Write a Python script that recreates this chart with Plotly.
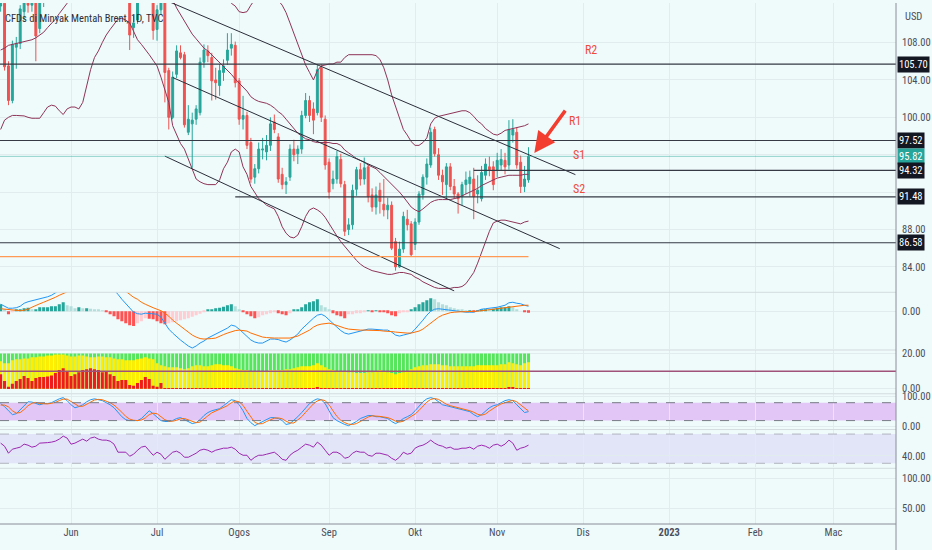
import pandas as pd
import plotly.graph_objects as go
from plotly.subplots import make_subplots

# daily bars, 6 May .. 11 Nov 2022
bars = pd.bdate_range("2022-05-06", periods=136)

opens = [111.9, 112.2, 105.5, 101.8, 107.5, 107.9, 111.3, 114.2, 112.0, 112.5, 109.5, 112.9, 113.4, 113.6, 114.0, 117.4, 119.4, 121.7,
         122.6, 116.3, 117.6, 119.7, 119.5, 120.6, 123.6, 123.1, 122.0, 122.3, 121.2, 118.5, 119.8, 113.1, 114.1, 114.6, 109.6, 110.4, 113.2, 115.0, 117.9, 116.3,
         109.4, 111.5, 113.0, 105.0, 100.0, 104.6, 106.9, 106.7, 98.4, 99.3, 99.8, 100.5, 105.9, 107.1, 106.4, 104.0, 103.4, 104.8, 106.1, 107.4, 107.7, 103.9,
         99.8, 100.2, 97.3, 93.6, 94.5, 96.5, 96.3, 97.0, 99.5, 97.9, 93.9, 92.8, 93.6, 96.6, 96.1, 96.6, 100.2, 101.8, 100.9, 100.5, 105.3, 99.8,
         95.2, 92.9, 93.4, 95.5, 92.8, 88.0, 88.5, 92.3, 94.4, 93.4, 94.7, 91.7, 90.4, 92.2, 90.7, 90.1, 90.6, 86.7, 84.0, 85.9, 89.1, 88.6,
         86.4, 88.8, 91.7, 93.6, 94.9, 98.7, 96.0, 93.8, 92.8, 94.7, 92.6, 91.8, 91.5, 92.8, 92.9, 93.4, 91.8, 91.3, 93.8, 94.7, 94.7, 94.4,
         94.9, 95.4, 94.9, 98.1, 98.4, 95.2, 92.6, 93.3]
highs = [113.2, 112.8, 106.0, 108.2, 108.6, 112.0, 114.8, 114.9, 113.0, 113.0, 113.5, 114.2, 114.5, 114.9, 117.6, 119.6, 121.9, 124.0,
         123.2, 118.2, 120.0, 121.0, 121.2, 124.0, 124.0, 124.0, 123.7, 125.0, 122.6, 120.5, 120.0, 114.8, 115.3, 115.0, 110.9, 113.8, 115.3, 118.6, 118.3, 116.8,
         112.0, 113.5, 113.6, 105.3, 104.9, 107.7, 107.7, 107.0, 101.3, 100.5, 101.3, 106.4, 107.8, 107.7, 106.9, 105.3, 105.7, 106.2, 109.0, 109.0, 108.1, 104.2,
         102.3, 100.6, 97.8, 95.0, 97.3, 97.8, 98.1, 100.0, 100.3, 98.3, 94.6, 93.6, 97.1, 97.6, 97.0, 100.7, 102.6, 102.3, 101.6, 105.7, 105.7, 100.2,
         95.6, 94.3, 96.4, 96.1, 93.2, 89.2, 92.8, 94.7, 95.1, 95.7, 95.0, 92.4, 92.6, 93.0, 93.4, 91.4, 91.0, 87.1, 86.7, 89.9, 90.1, 88.9,
         89.2, 92.1, 93.9, 95.6, 98.9, 99.0, 96.7, 94.4, 95.1, 95.1, 93.4, 92.0, 93.1, 94.2, 94.3, 94.6, 93.8, 94.8, 95.6, 95.8, 95.3, 96.2,
         96.6, 96.2, 99.7, 99.8, 98.9, 95.9, 94.8, 96.8]
lows = [111.3, 105.0, 101.3, 101.5, 105.2, 107.3, 110.4, 111.2, 111.3, 106.0, 109.0, 111.8, 112.6, 112.8, 113.7, 116.9, 118.8, 118.9,
        114.6, 113.8, 116.9, 118.3, 119.0, 120.2, 121.8, 120.5, 119.6, 120.2, 117.8, 117.4, 112.7, 112.4, 113.0, 107.2, 108.5, 110.0, 112.6, 114.5, 115.5, 108.3,
        108.2, 111.0, 101.6, 98.7, 99.8, 104.2, 106.2, 98.9, 98.1, 94.6, 99.2, 100.2, 105.3, 105.9, 101.8, 101.9, 102.3, 103.9, 105.6, 106.6, 103.2, 99.2,
        98.7, 96.6, 93.0, 92.9, 94.0, 95.5, 95.4, 96.4, 98.3, 93.0, 92.3, 91.8, 93.2, 95.3, 95.0, 96.1, 99.9, 99.5, 98.2, 100.2, 99.5, 94.4,
        91.3, 92.3, 92.9, 92.5, 87.3, 87.4, 88.0, 91.6, 92.7, 92.8, 90.9, 89.9, 89.6, 89.7, 89.4, 89.1, 85.8, 83.6, 83.9, 85.5, 87.9, 85.1,
        85.8, 88.5, 91.2, 92.8, 94.6, 95.8, 93.3, 91.7, 91.3, 92.2, 91.3, 89.7, 90.6, 91.8, 91.5, 89.1, 90.8, 91.0, 93.3, 93.7, 92.2, 93.6,
        94.3, 93.9, 94.4, 97.3, 94.5, 91.9, 92.0, 93.0]
closes = [112.4, 105.4, 101.8, 107.8, 107.9, 111.6, 114.2, 112.0, 112.6, 108.7, 112.9, 113.4, 113.6, 114.0, 117.4, 119.4, 121.7, 122.8,
          116.3, 117.6, 119.7, 119.5, 120.6, 123.6, 123.1, 122.0, 122.3, 121.2, 118.5, 119.8, 113.1, 114.1, 114.6, 108.8, 110.1, 113.2, 115.0, 117.9, 116.3, 109.3,
          111.5, 113.0, 104.8, 100.0, 104.3, 107.1, 106.4, 99.2, 99.8, 99.7, 100.9, 105.9, 107.2, 106.6, 103.9, 103.7, 105.0, 105.5, 107.2, 107.8, 103.7, 99.8,
          100.2, 97.0, 93.4, 94.5, 96.6, 96.6, 97.0, 99.3, 98.7, 93.4, 92.8, 93.1, 96.6, 96.0, 96.6, 100.2, 101.8, 100.2, 99.7, 105.1, 100.0, 94.9,
          92.0, 93.4, 95.8, 92.9, 87.8, 88.5, 92.2, 94.4, 93.4, 94.6, 91.5, 90.4, 91.7, 91.0, 90.1, 90.6, 86.0, 84.0, 85.9, 89.4, 88.5, 85.3,
          88.8, 91.8, 93.6, 95.0, 98.4, 96.1, 93.8, 93.1, 94.7, 92.6, 91.8, 91.3, 92.8, 93.3, 93.6, 91.5, 92.2, 94.1, 95.0, 94.4, 92.8, 95.4,
          95.5, 94.7, 98.7, 98.7, 94.9, 92.6, 93.4, 95.82]

# Bollinger bands
bb_upper = [116.5, 116.3, 116.0, 115.8, 115.6, 115.5, 115.4, 115.4, 115.5, 115.6, 115.8, 116.2, 116.8, 117.6, 118.6, 119.8, 121.0, 122.2,
            123.0, 123.6, 124.2, 124.7, 125.0, 125.2, 125.4, 125.5, 125.5, 125.4, 125.2, 125.0, 124.8, 124.8, 124.9, 125.0, 125.0, 125.0, 125.0, 124.9, 124.8, 124.6,
            124.4, 124.2, 124.0, 123.8, 123.5, 122.8, 122.0, 121.3, 120.5, 119.8, 118.5, 117.5, 116.6, 116.0, 115.3, 114.8, 114.2, 113.5, 112.8, 112.2, 111.9, 111.3,
            111.2, 111.3, 112.0, 112.6, 112.8, 113.0, 113.0, 112.9, 112.7, 112.5, 112.0, 111.2, 110.1, 109.0, 108.0, 106.9, 105.6, 104.8, 104.0, 105.0, 105.5, 105.6,
            105.7, 105.7, 105.9, 105.9, 106.4, 106.7, 106.7, 106.7, 106.7, 106.7, 106.7, 106.7, 106.6, 106.2, 105.3, 104.0, 102.4, 101.1, 99.8, 98.7, 98.1, 97.4,
            97.0, 97.0, 97.3, 97.8, 99.3, 99.9, 100.1, 100.2, 100.3, 100.4, 100.5, 100.6, 100.7, 100.7, 100.5, 100.1, 99.6, 99.3, 98.8, 98.5, 98.2, 98.1,
            98.3, 98.6, 98.7, 98.8, 98.9, 99.0, 99.1, 99.3]
bb_basis = [107.2, 107.4, 107.7, 107.8, 107.9, 108.0, 108.1, 108.2, 108.3, 108.5, 108.8, 109.1, 109.6, 110.0, 110.5, 111.1, 111.6, 112.2,
            112.8, 113.4, 114.0, 114.6, 115.2, 115.8, 116.3, 116.8, 117.2, 117.6, 117.9, 118.1, 118.2, 118.2, 118.1, 117.8, 117.5, 117.2, 116.8, 116.4, 116.0, 115.5,
            115.0, 114.4, 113.8, 113.2, 112.6, 111.7, 111.0, 110.3, 109.7, 108.9, 108.4, 107.9, 107.4, 107.1, 106.7, 106.3, 105.9, 105.4, 105.0, 104.6, 104.1, 103.7,
            103.3, 102.8, 102.2, 101.9, 101.7, 101.6, 101.5, 101.3, 101.0, 100.6, 100.3, 99.8, 99.3, 98.7, 98.3, 98.0, 97.7, 97.6, 97.4, 97.3, 97.3, 97.3,
            97.3, 97.2, 97.2, 97.0, 96.5, 96.2, 95.9, 95.6, 95.4, 95.2, 94.9, 94.7, 94.5, 94.1, 93.7, 93.3, 92.9, 92.4, 92.0, 91.5, 91.0, 90.4,
            90.1, 89.9, 90.2, 90.6, 90.9, 91.1, 91.2, 91.2, 91.2, 91.2, 91.3, 91.4, 91.6, 91.8, 92.0, 92.2, 92.4, 92.7, 92.9, 93.1, 93.3, 93.5,
            93.6, 93.7, 93.8, 93.8, 93.8, 93.8, 93.9, 93.9]
bb_lower = [98.7, 99.7, 100.0, 100.2, 100.2, 100.2, 100.15, 100.0, 99.9, 99.9, 99.9, 100.5, 101.1, 101.3, 101.2, 100.7, 100.3, 100.9,
            101.1, 101.1, 100.9, 101.6, 103.4, 105.1, 106.4, 107.1, 108.0, 108.8, 109.4, 109.9, 110.5, 110.6, 110.4, 110.1, 109.1, 108.3, 107.8, 107.3, 106.7, 106.1,
            105.5, 104.3, 103.0, 101.6, 99.1, 98.1, 97.2, 96.6, 95.5, 94.4, 93.4, 93.1, 92.9, 92.8, 92.8, 92.8, 93.3, 94.5, 95.2, 96.3, 96.6, 96.3,
            94.7, 93.9, 92.6, 91.9, 91.3, 91.0, 90.6, 90.4, 90.2, 89.4, 88.3, 87.6, 87.2, 87.1, 87.4, 88.3, 89.4, 90.1, 90.3, 90.1, 89.8, 89.3,
            88.6, 87.9, 87.3, 86.7, 86.2, 85.6, 85.1, 84.7, 84.3, 84.0, 83.8, 83.6, 83.5, 83.4, 83.3, 83.2, 83.2, 83.3, 83.4, 83.4, 83.3, 83.2,
            82.9, 82.7, 82.4, 82.2, 82.0, 81.8, 81.7, 81.7, 81.7, 81.7, 81.8, 81.8, 81.9, 82.2, 82.8, 83.4, 84.4, 85.6, 86.7, 87.8, 88.7, 88.9,
            89.0, 89.0, 88.9, 88.8, 88.7, 88.6, 88.8, 88.9]

macd_line = [0.7, 0.5, 0.3, 0.3, 0.35, 0.5, 0.8, 0.95, 1.05, 1.1, 1.2, 1.35, 1.45, 1.6, 1.8, 2.1, 2.5, 2.7,
             2.9, 3.0, 3.2, 3.4, 3.6, 3.7, 3.7, 3.6, 3.3, 3.0, 2.6, 2.2, 1.7, 1.2, 0.8, 0.3, -0.1, -0.25, -0.3, -0.2, -0.25, -0.3,
             -0.3, -0.6, -1.2, -1.8, -2.2, -2.6, -2.9, -3.2, -3.5, -3.7, -3.5, -3.2, -3.0, -2.7, -2.5, -2.3, -2.1, -1.9, -1.7, -1.4, -1.5, -1.8,
             -2.2, -2.5, -2.9, -3.1, -3.2, -3.2, -3.0, -2.8, -2.8, -2.85, -3.0, -3.1, -2.9, -2.6, -2.3, -1.8, -1.4, -1.0, -0.7, -0.4, -0.3, -0.5,
             -0.9, -1.2, -1.6, -1.95, -2.2, -2.3, -2.2, -2.1, -2.0, -1.9, -1.8, -1.8, -1.85, -1.9, -1.9, -1.9, -2.1, -2.4, -2.5, -2.4, -2.3, -2.2,
             -1.8, -1.4, -0.9, -0.4, 0.0, 0.2, 0.25, 0.2, 0.15, 0.1, 0.05, 0.0, -0.1, -0.1, -0.1, -0.1, 0.05, 0.2, 0.25, 0.3, 0.3, 0.4,
             0.5, 0.6, 0.85, 0.9, 0.8, 0.75, 0.6, 0.5]
macd_signal = [0.25, 0.2, 0.15, 0.1, 0.05, 0.05, 0.1, 0.2, 0.4, 0.6, 0.75, 0.9, 1.05, 1.2, 1.4, 1.6, 1.8, 2.0,
               2.2, 2.4, 2.6, 2.8, 3.0, 3.2, 3.3, 3.35, 3.35, 3.3, 3.1, 2.9, 2.6, 2.3, 2.0, 1.7, 1.4, 1.2, 0.9, 0.7, 0.5, 0.35,
               0.2, 0.05, -0.2, -0.5, -0.9, -1.2, -1.5, -1.8, -2.1, -2.4, -2.6, -2.75, -2.8, -2.8, -2.75, -2.7, -2.5, -2.35, -2.2, -2.05, -1.95, -1.9,
               -1.95, -2.0, -2.2, -2.35, -2.5, -2.6, -2.65, -2.7, -2.7, -2.7, -2.7, -2.7, -2.7, -2.6, -2.5, -2.3, -2.1, -1.9, -1.6, -1.4, -1.3, -1.25,
               -1.2, -1.3, -1.45, -1.6, -1.7, -1.8, -1.85, -1.9, -1.9, -1.9, -1.9, -1.9, -1.9, -1.95, -2.0, -2.0, -2.05, -2.1, -2.15, -2.2, -2.2, -2.2,
               -2.1, -2.0, -1.8, -1.5, -1.2, -0.9, -0.6, -0.4, -0.25, -0.15, -0.1, -0.05, -0.05, -0.05, -0.05, 0.0, 0.0, 0.05, 0.1, 0.15, 0.2, 0.25,
               0.3, 0.35, 0.4, 0.5, 0.55, 0.6, 0.6, 0.6]
macd_hist = [0.7, 0.2, -0.3, -0.1, 0.1, 0.2, 0.3, 0.35, 0.2, 0.2, 0.4, 0.4, 0.4, 0.5, 0.5, 0.7, 0.9, 0.6,
             0.5, 0.3, 0.4, 0.3, 0.3, 0.25, 0.2, 0.15, 0.05, -0.05, -0.3, -0.5, -0.8, -1.0, -1.2, -1.4, -1.5, -1.2, -1.0, -0.7, -0.75, -0.8,
             -1.0, -1.2, -1.3, -1.2, -1.1, -1.0, -0.9, -0.8, -0.7, -0.55, -0.4, -0.25, -0.1, 0.1, 0.2, 0.3, 0.35, 0.45, 0.6, 0.7, 0.5, 0.2,
             -0.1, -0.3, -0.5, -0.7, -0.6, -0.4, -0.3, -0.2, -0.1, -0.2, -0.3, -0.4, -0.2, 0.1, 0.2, 0.4, 0.7, 0.9, 1.0, 1.2, 0.6, 0.4,
             0.1, -0.2, -0.4, -0.5, -0.7, -0.3, -0.3, -0.2, -0.2, -0.1, 0.05, -0.05, 0.05, -0.05, -0.1, -0.2, -0.4, -0.5, -0.2, -0.1, -0.05, 0.2,
             0.4, 0.7, 0.9, 1.1, 1.3, 1.2, 0.9, 0.7, 0.6, 0.4, 0.3, 0.2, 0.1, 0.05, 0.05, -0.05, 0.05, 0.15, 0.2, 0.15, 0.25, 0.35,
             0.4, 0.4, 0.5, 0.4, 0.15, 0.0, -0.1, -0.15]

# trend strength columns (0..20 scale)
trend_full = 20
trend_yellow = [15.6, 14.4, 14.4, 16.1, 16.7, 16.7, 17.2, 17.2, 17.8, 17.8, 18.3, 18.3, 18.9, 18.9, 19.4, 19.4, 19.4, 18.9,
                18.3, 18.3, 18.9, 18.9, 18.3, 17.8, 17.8, 18.3, 18.3, 17.8, 17.8, 17.2, 16.7, 16.7, 16.1, 16.1, 16.1, 16.7, 17.2, 17.8, 17.2, 16.7,
                14.4, 13.3, 12.8, 12.2, 12.2, 12.2, 11.7, 11.1, 11.7, 12.8, 13.3, 13.3, 12.8, 12.8, 13.3, 13.9, 13.9, 13.3, 13.3, 12.8, 11.7, 11.1,
                10.6, 10.6, 10.0, 10.0, 10.0, 10.0, 10.0, 10.6, 10.6, 10.6, 10.6, 11.1, 11.1, 11.7, 12.2, 12.8, 12.8, 12.8, 13.3, 14.4, 13.3, 12.2,
                11.1, 10.6, 10.0, 10.0, 10.0, 9.4, 9.4, 8.9, 8.9, 8.9, 9.4, 9.4, 10.0, 10.6, 10.0, 9.4, 8.9, 8.3, 8.9, 9.4, 10.0, 11.1,
                12.2, 12.8, 13.3, 13.3, 13.9, 13.9, 13.9, 13.3, 13.3, 12.8, 12.8, 12.8, 12.8, 12.8, 12.8, 12.8, 13.3, 13.3, 13.3, 13.3, 13.3, 13.3,
                13.9, 13.9, 15.0, 14.4, 13.9, 13.3, 14.4, 15.0]
trend_red = [8.3, 4.4, 1.1, 2.8, 4.4, 5.6, 7.2, 6.1, 4.4, 6.1, 6.7, 6.7, 6.9, 7.5, 8.9, 10.6, 11.7, 10.0,
             7.2, 8.3, 9.4, 10.6, 11.1, 11.7, 11.1, 10.6, 9.4, 10.0, 8.3, 7.2, 4.4, 5.0, 5.0, 2.2, 1.7, 3.3, 5.0, 6.7, 5.6, 1.7,
             1.1, 3.3, 0.4, 0.4, 0.4, 0.4, 0.4, 0.4, 0.4, 0.4, 0.4, 0.4, 0.4, 0.4, 0.4, 0.4, 0.4, 0.4, 0.4, 0.4, 0.4, 0.4,
             0.4, 0.4, 0.4, 0.4, 0.4, 0.4, 0.4, 0.4, 0.4, 0.4, 0.4, 0.4, 0.4, 0.4, 0.4, 0.4, 0.4, 0.4, 0.4, 0.8, 0.4, 0.4,
             0.4, 0.4, 0.4, 0.4, 0.4, 0.4, 0.4, 0.4, 0.4, 0.4, 0.4, 0.4, 0.4, 0.4, 0.4, 0.4, 0.4, 0.4, 0.4, 0.4, 0.4, 0.4,
             0.4, 0.4, 0.4, 0.4, 0.4, 0.4, 0.4, 0.4, 0.4, 0.4, 0.4, 0.4, 0.4, 0.4, 0.4, 0.4, 0.4, 0.4, 0.4, 0.4, 0.4, 0.4,
             0.4, 0.4, 0.9, 0.9, 0.4, 0.4, 0.4, 0.4]

stoch_k = [77, 67, 53, 40, 43, 57, 70, 83, 82, 77, 73, 77, 77, 80, 87, 93, 97, 87,
           73, 63, 67, 73, 83, 90, 93, 90, 87, 80, 73, 63, 47, 33, 23, 20, 20, 20, 27, 40, 53, 43,
           33, 20, 17, 17, 20, 27, 30, 23, 17, 10, 13, 23, 37, 47, 53, 57, 60, 70, 80, 90, 87, 73,
           53, 27, 13, 3, 10, 17, 23, 30, 30, 27, 20, 7, 10, 20, 33, 47, 63, 77, 87, 93, 90, 77,
           53, 30, 20, 13, 7, 3, 10, 17, 27, 33, 37, 37, 33, 33, 30, 27, 17, 10, 17, 27, 33, 40,
           53, 70, 83, 93, 97, 93, 83, 73, 70, 67, 63, 60, 57, 53, 50, 40, 33, 40, 53, 63, 70, 73,
           80, 87, 90, 87, 73, 60, 47, 50]
stoch_d = [72, 72, 66, 53, 45, 47, 57, 70, 78, 81, 77, 76, 76, 78, 81, 87, 92, 92,
           84, 74, 68, 68, 74, 82, 89, 91, 90, 86, 80, 72, 61, 48, 34, 25, 21, 20, 22, 29, 40, 45,
           43, 32, 23, 18, 18, 21, 26, 27, 23, 17, 13, 15, 24, 36, 46, 52, 57, 62, 70, 80, 86, 83,
           71, 51, 31, 14, 9, 10, 17, 23, 28, 29, 26, 18, 12, 12, 21, 33, 48, 62, 76, 86, 90, 87,
           73, 53, 34, 21, 13, 8, 7, 10, 18, 26, 32, 36, 36, 34, 32, 30, 25, 18, 15, 18, 26, 33,
           42, 54, 69, 82, 91, 94, 91, 83, 75, 70, 67, 63, 60, 57, 53, 48, 41, 38, 42, 52, 62, 69,
           76, 80, 86, 88, 83, 73, 60, 52]
rsi = [57.6, 53.4, 43.8, 49.3, 50.7, 52.1, 56.2, 54.8, 52.1, 53.4, 57.6, 57.6, 58.3, 59.0, 60.3, 63.1, 67.2, 64.5,
       56.2, 57.6, 60.3, 63.1, 60.3, 64.5, 65.9, 63.1, 61.7, 61.7, 60.3, 56.2, 45.2, 45.2, 45.2, 39.7, 42.4, 47.9, 52.1, 53.4, 47.9, 41.0,
       45.2, 42.4, 35.5, 39.7, 45.2, 46.6, 43.8, 38.3, 38.3, 41.0, 43.8, 47.9, 49.3, 47.9, 45.2, 47.9, 49.3, 50.7, 50.7, 52.1, 49.3, 43.8,
       41.0, 41.0, 34.1, 38.3, 41.0, 41.0, 42.4, 43.8, 45.2, 41.0, 35.5, 34.1, 41.0, 45.2, 47.9, 52.1, 56.2, 54.8, 52.1, 59.0, 54.8, 47.9,
       41.0, 45.2, 45.2, 42.4, 36.9, 38.3, 43.8, 46.6, 45.2, 45.2, 41.0, 39.7, 43.8, 43.8, 42.4, 41.0, 36.9, 34.1, 38.3, 45.2, 42.4, 43.8,
       50.7, 53.4, 54.8, 57.6, 61.7, 57.6, 54.8, 53.4, 50.7, 52.1, 49.3, 49.3, 50.7, 50.7, 52.1, 49.3, 53.4, 54.8, 53.4, 50.7, 54.8, 56.2,
       53.4, 56.2, 61.7, 57.6, 47.9, 50.7, 52.1, 54.8]

# drawings
level_price = [105.70, 97.52, 94.32, 91.48, 86.58]
level_start = [None, None, "2022-10-24", "2022-07-29", None]
orange_level = 85.1
last_price = 95.82
channel_x = [["2022-07-04", "2022-11-29"], ["2022-07-07", "2022-11-23"], ["2022-07-05", "2022-10-17"]]
channel_y = [[112.74, 93.87], [104.26, 85.95], [95.85, 81.43]]
pivot_text = ["R2", "R1", "S1", "S2"]
pivot_x = ["2022-12-05", "2022-11-29", "2022-11-30", "2022-11-30"]
pivot_y = [107.2, 99.6, 96.0, 92.3]
tag_price = [105.70, 97.52, 95.82, 94.32, 91.48, 86.58]

month_ticks = ["2022-06-01", "2022-07-01", "2022-08-01", "2022-09-01", "2022-10-03",
               "2022-11-01", "2022-12-01", "2023-01-02", "2023-02-01", "2023-03-01"]
month_text = ["Jun", "Jul", "Ogos", "Sep", "Okt", "Nov", "Dis", "<b>2023</b>", "Feb", "Mac"]
x_range = ["2022-05-05 20:00", "2023-03-23"]

BG = "#effafb"
GRID = "#e0ecee"
UP, DOWN = "#26a69a", "#ef5350"
BB_COLOR = "#8e3457"
FONT = "Liberation Sans Narrow, Roboto Condensed, Roboto, sans-serif"

fig = make_subplots(rows=6, cols=1, shared_xaxes=True, vertical_spacing=0)

fig.add_trace(go.Candlestick(
    x=bars, open=opens, high=highs, low=lows, close=closes,
    increasing=dict(line=dict(color=UP, width=1), fillcolor=UP),
    decreasing=dict(line=dict(color=DOWN, width=1), fillcolor=DOWN),
    whiskerwidth=0), row=1, col=1)

for band in (bb_upper, bb_basis, bb_lower):
    fig.add_trace(go.Scatter(x=bars, y=band, mode="lines",
                             line=dict(color=BB_COLOR, width=1)), row=1, col=1)

for cx, cy in zip(channel_x, channel_y):
    fig.add_trace(go.Scatter(x=cx, y=cy, mode="lines",
                             line=dict(color="#2a2e39", width=1)), row=1, col=1)

# MACD
hist_colors = []
prev = 0
for h in macd_hist:
    if h >= 0:
        hist_colors.append("#26a69a" if h >= prev else "#b2dfdb")
    else:
        hist_colors.append("#ff5252" if h < prev else "#ffcdd2")
    prev = h
fig.add_trace(go.Bar(x=bars, y=macd_hist, marker=dict(color=hist_colors, line_width=0)), row=2, col=1)
fig.add_trace(go.Scatter(x=bars, y=macd_line, mode="lines", line=dict(color="#2196f3", width=1)), row=2, col=1)
fig.add_trace(go.Scatter(x=bars, y=macd_signal, mode="lines", line=dict(color="#ff6d00", width=1)), row=2, col=1)

# trend columns
fig.add_trace(go.Bar(x=bars, y=[trend_full] * len(bars), marker=dict(color="#55e65b", line_width=0)), row=3, col=1)
fig.add_trace(go.Bar(x=bars, y=trend_yellow, marker=dict(color="#ffee00", line_width=0)), row=3, col=1)
fig.add_trace(go.Bar(x=bars, y=trend_red, marker=dict(color="#ee1c1c", line_width=0)), row=3, col=1)

# stochastic
fig.add_trace(go.Scatter(x=bars, y=stoch_k, mode="lines", line=dict(color="#2196f3", width=1)), row=4, col=1)
fig.add_trace(go.Scatter(x=bars, y=stoch_d, mode="lines", line=dict(color="#ff6d00", width=1)), row=4, col=1)

# RSI
fig.add_trace(go.Scatter(x=bars, y=rsi, mode="lines", line=dict(color="#9c27b0", width=1)), row=5, col=1)

# empty bottom pane, still needs a trace so its axes get drawn
fig.add_trace(go.Scatter(x=[], y=[], mode="lines"), row=6, col=1)

fig.update_layout(
    width=932, height=550, margin=dict(l=0, r=36, t=0, b=26),
    paper_bgcolor=BG, plot_bgcolor=BG, showlegend=False,
    barmode="overlay", bargap=0.22,
    font=dict(family=FONT, size=10.5, color="#4a4e5a"))

fig.update_xaxes(type="date", range=x_range, rangebreaks=[dict(bounds=["sat", "mon"])],
                 tickvals=month_ticks, ticktext=month_text, showgrid=True, gridcolor=GRID,
                 zeroline=False, showline=False, ticks="", rangeslider_visible=False)
for r in range(1, 6):
    fig.update_xaxes(showticklabels=False, row=r, col=1)

domains = [[0.4456, 1.0], [0.3359, 0.4447], [0.2519, 0.3340], [0.1813, 0.2500], [0.1088, 0.1813], [0.0, 0.1069]]
yranges = [[81.33, 112.23], [-3.8, 1.9], [-2.25, 21.97], [-10, 110], [24.5, 76.2], [23.3, 116.7]]
yticks = [[84, 88, 100, 104, 108], [0], [0, 20], [0, 100], [40], [50, 100]]
for n in range(6):
    fig.update_yaxes(side="right", domain=domains[n], range=yranges[n], tickvals=yticks[n],
                     tickformat=".2f", showgrid=True, gridcolor=GRID, zeroline=False,
                     ticks="", showline=False, ticklabelstandoff=5, row=n + 1, col=1)
# price grid rows whose labels sit under the price tags
fig.update_yaxes(minor=dict(tickvals=[92, 96], showgrid=True, gridcolor=GRID), row=1, col=1)

# support / resistance lines
for price, start in zip(level_price, level_start):
    if start is None:
        fig.add_shape(type="line", xref="paper", x0=0, x1=1, yref="y", y0=price, y1=price,
                      line=dict(color="#363a45", width=1.2))
    else:
        fig.add_shape(type="line", xref="x", x0=start, x1=x_range[1], yref="y", y0=price, y1=price,
                      line=dict(color="#363a45", width=1.2))
fig.add_shape(type="line", xref="x", x0=x_range[0], x1=bars[-1], yref="y", y0=orange_level, y1=orange_level,
              line=dict(color="#ff9a55", width=1.3))
fig.add_shape(type="line", xref="paper", x0=0, x1=1, yref="y", y0=last_price, y1=last_price,
              line=dict(color="rgba(38,166,154,0.45)", width=1))

# oscillator bands
fig.add_shape(type="rect", xref="paper", x0=0, x1=1, yref="y4", y0=20, y1=80,
              fillcolor="rgba(192,80,234,0.3)", line_width=0, layer="below")
fig.add_shape(type="rect", xref="paper", x0=0, x1=1, yref="y5", y0=30, y1=70,
              fillcolor="rgba(150,100,230,0.14)", line_width=0, layer="below")
for yref, val, col in [("y4", 80, "#787b86"), ("y4", 20, "#787b86"), ("y5", 70, "#b2b5be"), ("y5", 30, "#b2b5be")]:
    fig.add_shape(type="line", xref="paper", x0=0, x1=1, yref=yref, y0=val, y1=val,
                  line=dict(color=col, width=1, dash="dash"))
fig.add_shape(type="line", xref="paper", x0=0, x1=1, yref="y3", y0=10, y1=10,
              line=dict(color="#a0527a", width=1.5))

# pane separators and axis lines
for top in domains[1:]:
    fig.add_shape(type="line", xref="paper", x0=0, x1=1, yref="paper", y0=top[1], y1=top[1],
                  line=dict(color="#d3dbde", width=1))
fig.add_shape(type="line", xref="paper", x0=0, x1=1, yref="paper", y0=0, y1=0,
              line=dict(color="#8a8e98", width=1))
fig.add_shape(type="line", xref="paper", x0=1, x1=1, yref="paper", y0=-0.06, y1=1,
              line=dict(color="#8a8e98", width=1))

# price tags on the axis
for price in tag_price:
    fig.add_annotation(xref="paper", x=1, xanchor="left", xshift=1, yref="y", y=price,
                       text=f"{price:.2f}", showarrow=False, borderpad=1,
                       bgcolor="#26a69a" if price == last_price else "#131722",
                       font=dict(color="white", size=10.5))

fig.add_annotation(xref="paper", x=1, xanchor="left", xshift=7, yref="paper", y=1, yanchor="top", yshift=-5,
                   text="USD", showarrow=False, font=dict(size=10.5, color="#4a4e5a"))
fig.add_annotation(xref="paper", x=0, xanchor="left", xshift=3, yref="paper", y=1, yanchor="top", yshift=-7,
                   text="CFDs di Minyak Mentah Brent, 1D, TVC", showarrow=False,
                   font=dict(size=10.5, color="#2a2e39"))

for txt, px, py in zip(pivot_text, pivot_x, pivot_y):
    fig.add_annotation(x=px, y=py, xref="x", yref="y", text=txt, showarrow=False,
                       font=dict(size=12, color="#ef4b3a"))

fig.add_annotation(x="2022-11-14 12:00", y=96.17, xref="x", yref="y", ax=32, ay=-44, text="",
                   showarrow=True, arrowhead=2, arrowsize=1.2, arrowwidth=3.5, arrowcolor="#f23d2f")

# page body has a default 8px margin; drop it so the figure fills the window
fig.write_html("out.html", config={"displayModeBar": False},
               post_script="document.body.style.margin = '0px';")
